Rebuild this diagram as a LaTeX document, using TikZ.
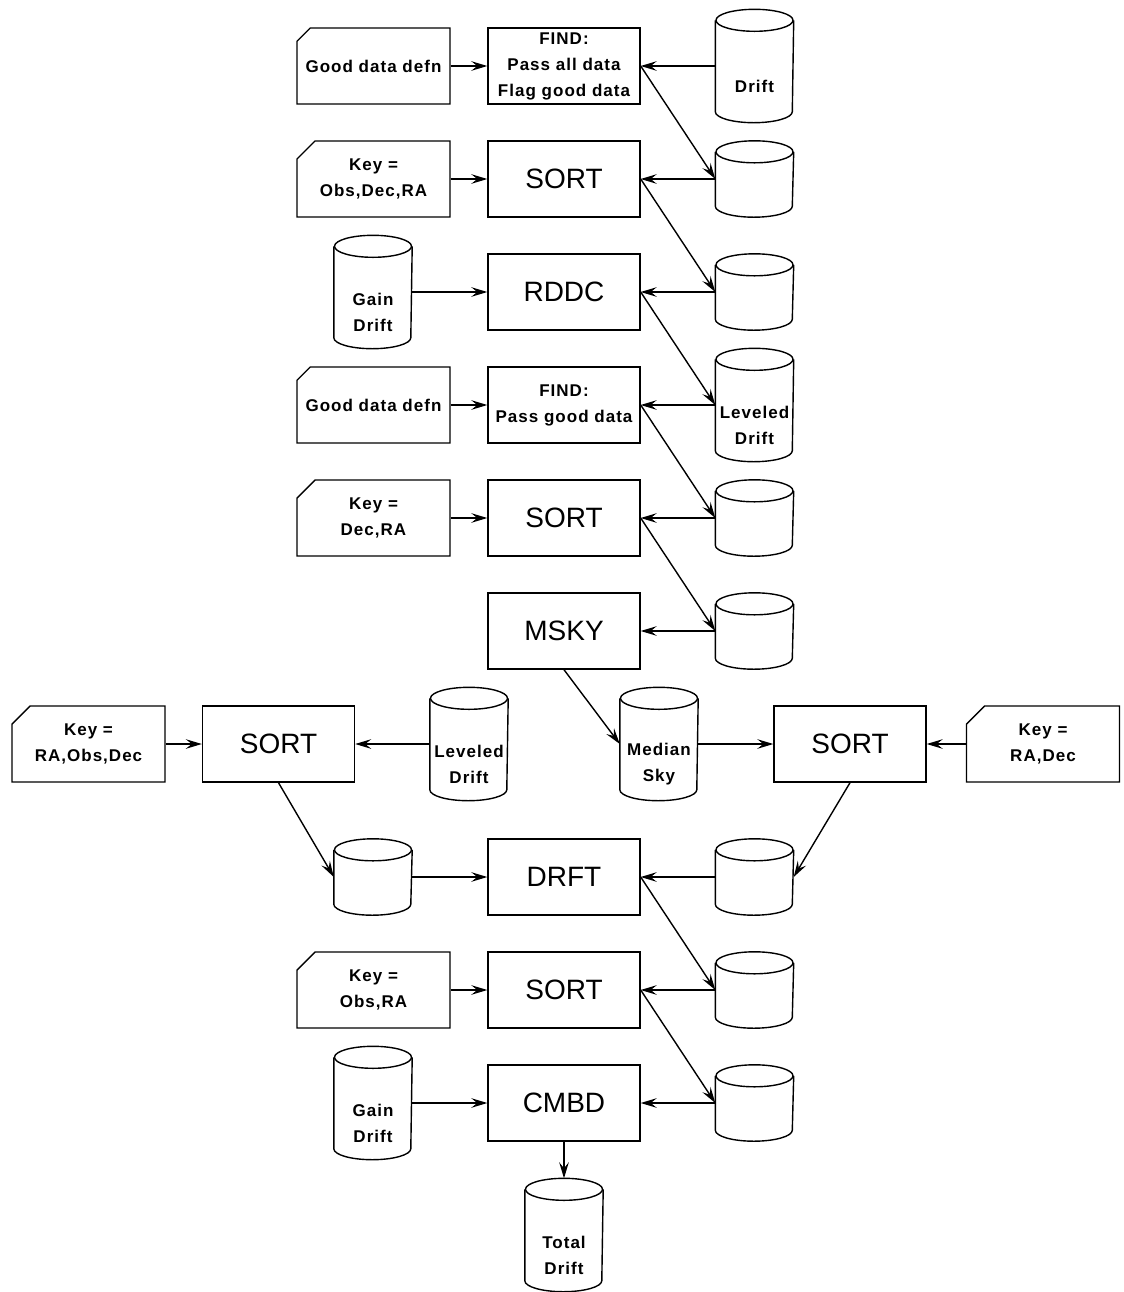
\documentclass[tikz,border=0pt]{standalone}
\usepackage{fontspec}
\setmainfont{Liberation Sans}
\newfontfamily\plotfont[LetterSpace=6]{Liberation Sans}
\usepackage{tikz}
\usetikzlibrary{calc}
\usetikzlibrary{arrows.meta}
\usetikzlibrary{shapes.misc}

\newcommand{\smalltxt}{\plotfont\bfseries\fontsize{8.5pt}{13pt}\selectfont}

\tikzset{
  proc/.style={draw, minimum width=76pt, minimum height=38pt, inner sep=1pt,
    font=\fontsize{14pt}{16pt}\selectfont},
  find/.style={proc, align=center, font=\smalltxt},
  card/.style={draw, chamfered rectangle, chamfered rectangle corners=north west,
    chamfered rectangle xsep=4.5pt, chamfered rectangle ysep=4.5pt,
    inner xsep=-3pt, inner ysep=-1pt,
    minimum width=76.5pt, minimum height=38pt, align=center, font=\smalltxt},
  drum/.style={minimum width=38.5pt, inner sep=0pt},
  drumtext/.style={align=center, inner sep=0pt, font=\smalltxt}
}

% name, centre, height, text
\newcommand{\drum}[4]{%
  \node[drum, minimum height=#3] (#1) at (#2) {};
  \draw ($(#1.north)+(0,11)$) ellipse [x radius=19.25pt, y radius=5.5pt];
  \draw ($(#1.north west)+(0,11)$) -- ($(#1.south west)+(0,-11)$)
    arc [start angle=180, end angle=360, x radius=19.25pt, y radius=5.5pt]
    -- ($(#1.north east)+(0,11)$);
  \node[drumtext] (#1-t) at ($(#1)+(0,20)$) {#4};
}

\begin{document}
\begin{tikzpicture}[x=0.5pt, y=-0.5pt, line width=0.7pt,
  >={Stealth[length=8pt, width=4.8pt, inset=3pt]}]
\useasboundingbox (0,0) rectangle (1124,1292);

% cards
\node[card] (g1) at (373.5,66) {Good data defn};
\node[card] (k1) at (373.5,179) {Key =\\Obs,Dec,RA};
\node[card] (g2) at (373.5,405) {Good data defn};
\node[card] (k2) at (373.5,518) {Key =\\Dec,RA};
\node[card] (k3) at (88.5,744) {Key =\\RA,Obs,Dec};
\node[card] (k4) at (1043,744) {Key =\\RA,Dec};
\node[card] (k5) at (373.5,990) {Key =\\Obs,RA};

% programs
\node[find] (find1) at (564,66) {FIND:\\Pass all data\\Flag good data};
\node[proc] (sort1) at (564,179) {SORT};
\node[proc] (rddc) at (564,292) {RDDC};
\node[find] (find2) at (564,405) {FIND:\\Pass good data};
\node[proc] (sort2) at (564,518) {SORT};
\node[proc] (msky) at (564,631) {MSKY};
\node[proc] (sort3) at (278.5,744) {SORT};
\node[proc] (sort4) at (850,744) {SORT};
\node[proc] (drft) at (564,877) {DRFT};
\node[proc] (sort5) at (564,990) {SORT};
\node[proc] (cmbd) at (564,1103) {CMBD};

% files
\drum{drift}{754.5,66}{56pt}{Drift}
\drum{d1}{754.5,179}{37.5pt}{}
\drum{d2}{754.5,292}{37.5pt}{}
\drum{gain1}{373,292}{56pt}{Gain\\Drift}
\drum{lev}{754.5,405}{56pt}{Leveled\\Drift}
\drum{d3}{754.5,518}{37.5pt}{}
\drum{d4}{754.5,631}{37.5pt}{}
\drum{lev2}{469,744}{56pt}{Leveled\\Drift}
\drum{med}{659,744}{56pt}{Median\\Sky}
\drum{d5}{373,877}{37.5pt}{}
\drum{d6}{754.5,877}{37.5pt}{}
\drum{d7}{754.5,990}{37.5pt}{}
\drum{d8}{754.5,1103}{37.5pt}{}
\drum{gain2}{373,1103}{56pt}{Gain\\Drift}
\drum{total}{564,1235}{56pt}{Total\\Drift}

% flow
\foreach \a/\b in {g1/find1, k1/sort1, gain1/rddc, g2/find2, k2/sort2, k3/sort3,
  med/sort4, d5/drft, k5/sort5, gain2/cmbd, find1/d1, sort1/d2, rddc/lev,
  find2/d3, sort2/d4, drft/d7, sort5/d8}
  \draw[->] (\a.east) -- (\b.west);
\foreach \a/\b in {drift/find1, d1/sort1, d2/rddc, lev/find2, d3/sort2, d4/msky,
  lev2/sort3, k4/sort4, d6/drft, d7/sort5, d8/cmbd}
  \draw[->] (\a.west) -- (\b.east);
\draw[->] (msky.south) -- (med.west);
\draw[->] (sort3.south) -- (d5.west);
\draw[->] (sort4.south) -- (d6.east);
\draw[->] (cmbd.south) -- (total.north);
\end{tikzpicture}
\end{document}
